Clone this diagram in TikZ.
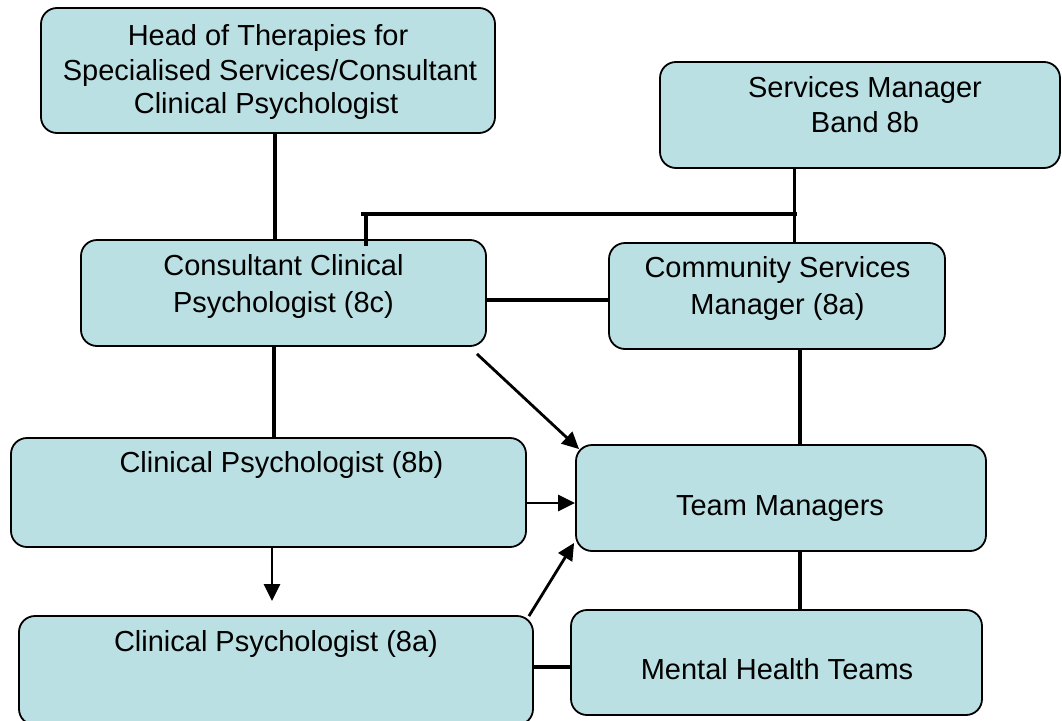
\documentclass[tikz,border=0pt]{standalone}
\usepackage{fontspec}
\setmainfont{Liberation Sans}
\usetikzlibrary{arrows.meta,calc}
\definecolor{boxfill}{RGB}{187,224,227}
\begin{document}
\begin{tikzpicture}[x=1pt,y=-1pt,
  box/.style={draw=black, line width=1.8pt, fill=boxfill, rounded corners=16pt, inner sep=0pt},
  txt/.style={anchor=base, inner sep=0pt, font=\fontsize{29}{35}\selectfont},
  link/.style={line width=3.5pt},
  thicklink/.style={line width=4.2pt},
  arr/.style={line width=2.8pt, -{Triangle[length=17pt,width=16pt]}}]
\useasboundingbox (0,0) rectangle (1062,720);
\clip (0,0) rectangle (1062,720);

% boxes
\node[box, minimum width=454pt, minimum height=125pt] (head) at (268,70.5) {};
\node[box, minimum width=400pt, minimum height=106pt] (serv) at (860,115) {};
\node[box, minimum width=405pt, minimum height=106pt] (cons) at (283.5,293) {};
\node[box, minimum width=336pt, minimum height=106pt] (comm) at (777,296) {};
\node[box, minimum width=515pt, minimum height=109pt] (clinb) at (268.5,492.5) {};
\node[box, minimum width=410pt, minimum height=106pt] (team) at (781,498) {};
\node[box, minimum width=514pt, minimum height=109pt] (clina) at (276,670.5) {};
\node[box, minimum width=411pt, minimum height=105pt] (mental) at (776.5,662.5) {};

% texts
\node[txt] (h1) at (268,45.4) {Head of Therapies for};
\node[txt] (h2) at (270,80.4) {Specialised Services/Consultant};
\node[txt] (h3) at (266,113.4) {Clinical Psychologist};
\node[txt] (s1) at (865,97.4) {Services Manager};
\node[txt] (s2) at (865,132.4) {Band 8b};
\node[txt] (c1) at (283.5,275.4) {Consultant Clinical};
\node[txt] (c2) at (283.5,312) {Psychologist (8c)};
\node[txt] (m1) at (777.5,277.4) {Community Services};
\node[txt] (m2) at (777.5,314.4) {Manager (8a)};
\node[txt] (b1) at (281.5,472.4) {Clinical Psychologist (8b)};
\node[txt] (t1) at (780,515.4) {Team Managers};
\node[txt] (a1) at (276,651.4) {Clinical Psychologist (8a)};
\node[txt] (e1) at (777,679.4) {Mental Health Teams};

% connectors
\coordinate (xa) at (275,0);
\draw[link] (head.south -| xa) -- (cons.north -| xa);
\coordinate (xb) at (794.5,0);
\draw[link] (serv.south -| xb) -- (comm.north -| xb);
\coordinate (jl) at (361,214);
\coordinate (jr) at (796.5,214);
\draw[thicklink] (jl) -- (jr);
\coordinate (xc) at (366,0);
\draw[thicklink] (jl -| xc) -- ($(cons.north -| xc)+(0,7)$);
\coordinate (ya) at (0,300);
\draw[link] (cons.east |- ya) -- (comm.west |- ya);
\coordinate (xd) at (274,0);
\draw[link] (cons.south -| xd) -- (clinb.north -| xd);
\draw[arr] ($(cons.south east)+(-10,7)$) -- ($(team.north west)+(4,5)$);
\coordinate (yb) at (0,503);
\draw[arr] (clinb.east |- yb) -- (team.west |- yb);
\coordinate (xe) at (272,0);
\coordinate (tipd) at (272,601);
\draw[arr] (clinb.south -| xe) -- (tipd);
\draw[arr] ($(clina.north east)+(-5,1)$) -- ($(team.south west)+(-1,-9)$);
\coordinate (xf) at (800,0);
\draw[link] (comm.south -| xf) -- (team.north -| xf);
\draw[link] (team.south -| xf) -- (mental.north -| xf);
\coordinate (yc) at (0,667);
\draw[thicklink] (clina.east |- yc) -- (mental.west |- yc);
\end{tikzpicture}
\end{document}
